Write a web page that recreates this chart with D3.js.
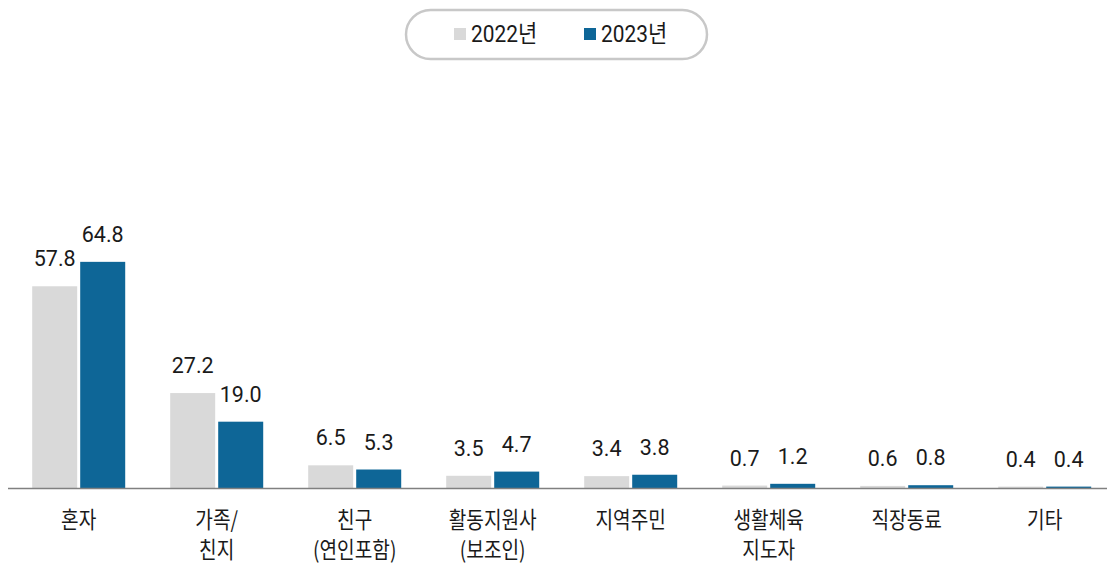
<!DOCTYPE html>
<html><head><meta charset="utf-8">
<script src="https://cdn.jsdelivr.net/npm/d3@7"></script>
<style>
html,body{margin:0;padding:0;background:#fff;}
svg{display:block;}
</style></head>
<body>
<svg id="chart" width="1107" height="564"></svg>
<script>
const categories = [["혼자"],["가족/","친지"],["친구","(연인포함)"],["활동지원사","(보조인)"],["지역주민"],["생활체육","지도자"],["직장동료"],["기타"]];
const years = ["2022년","2023년"];
const values2022 = [57.8, 27.2, 6.5, 3.5, 3.4, 0.7, 0.6, 0.4];
const values2023 = [64.8, 19.0, 5.3, 4.7, 3.8, 1.2, 0.8, 0.4];
const colors = ["#d9d9d9", "#0e6697"];

const svg = d3.select("#chart");
const keys = categories.map((c,i)=>"c"+i);
const x = d3.scaleBand().domain(keys).range([9.7, 1113.7]).paddingInner(0.326).paddingOuter(0.163);
const x1 = d3.scaleBand().domain(years).range([0, x.bandwidth()]).paddingInner(0.0625);
const y = d3.scaleLinear().domain([0, 100]).range([488, 139]);
const color = d3.scaleOrdinal().domain(years).range(colors);

const data = keys.map((k,i)=>({k, vals:[{yr:years[0], v:values2022[i]},{yr:years[1], v:values2023[i]}]}));

const g = svg.selectAll("g.grp").data(data).join("g").attr("class","grp")
  .attr("transform", d=>`translate(${x(d.k)},0)`);
g.selectAll("rect").data(d=>d.vals).join("rect")
  .attr("x", d=>x1(d.yr)).attr("width", x1.bandwidth())
  .attr("y", d=>y(d.v)).attr("height", d=>y(0)-y(d.v))
  .attr("fill", d=>color(d.yr));
g.selectAll("text.val").data(d=>d.vals).join("text").attr("class","val")
  .attr("x", d=>x1(d.yr)+x1.bandwidth()/2)
  .attr("y", d=>y(d.v)-20)
  .attr("text-anchor","middle")
  .attr("font-family","Roboto, 'Noto Sans CJK KR', sans-serif")
  .attr("font-size", 21.5).attr("fill","#1a1a1a")
  .text(d=>d.v.toFixed(1));

// axis line
svg.append("line").attr("x1", 8).attr("x2", 1107).attr("y1", y(0)+0.5).attr("y2", y(0)+0.5)
  .attr("stroke","#808080").attr("stroke-width",1.5);

// category labels
const xa = d3.axisBottom(x).tickSize(0).tickFormat(()=>"");
svg.append("g").attr("transform",`translate(0,${y(0)})`).call(xa).call(s=>s.select(".domain").remove());
categories.forEach((lines,i)=>{
  const cx = x(keys[i]) + x.bandwidth()/2;
  lines.forEach((t,j)=>{
    svg.append("text")
      .attr("transform", `translate(${cx},${518.5 + j*29.5}) scale(0.85,1)`)
      .attr("text-anchor","middle").attr("dominant-baseline","central")
      .attr("font-family","'Noto Sans CJK KR', sans-serif")
      .attr("font-size",22.5).attr("fill","#1a1a1a")
      .text(t);
  });
});

// legend
svg.append("rect").attr("x",406).attr("y",10).attr("width",301).attr("height",49).attr("rx",24.5)
  .attr("fill","#fff").attr("stroke","#c8c8c8").attr("stroke-width",2.5);
const legX = [454, 584];
years.forEach((yr,i)=>{
  svg.append("rect").attr("x",legX[i]).attr("y",28).attr("width",12).attr("height",12).attr("fill",color(yr));
  svg.append("text").attr("transform",`translate(${legX[i]+17},42) scale(0.87,1)`)
    .attr("font-family","Roboto, 'Noto Sans CJK KR', sans-serif")
    .attr("font-size",24).attr("fill","#1a1a1a").text(yr);
});
</script>
</body></html>
